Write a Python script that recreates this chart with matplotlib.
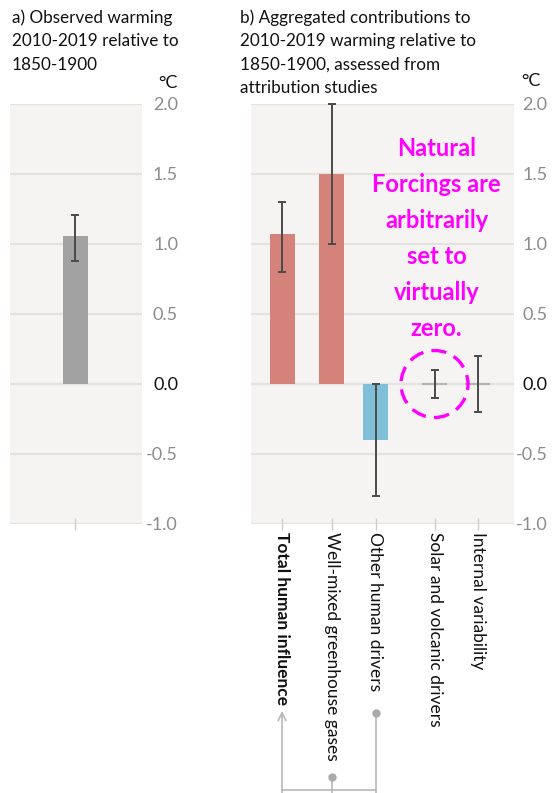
import matplotlib
matplotlib.use("Agg")
import matplotlib.pyplot as plt
import numpy as np
from matplotlib.patches import Circle
from matplotlib.transforms import ScaledTranslation, blended_transform_factory

# ---- data ----
observed_label = "a) Observed warming\n2010-2019 relative to\n1850-1900"
observed_best = [1.06]
observed_low = [0.88]
observed_high = [1.21]

contrib_title = ("b) Aggregated contributions to\n2010-2019 warming relative to\n"
                 "1850-1900, assessed from\nattribution studies")
categories = ["Total human influence", "Well-mixed greenhouse gases",
              "Other human drivers", "Solar and volcanic drivers",
              "Internal variability"]
best = [1.07, 1.50, -0.40, 0.0, 0.0]
low = [0.80, 1.00, -0.80, -0.10, -0.20]
high = [1.30, 2.00, 0.00, 0.10, 0.20]

yticks = [-1.0, -0.5, 0.0, 0.5, 1.0, 1.5, 2.0]
note = "Natural\nForcings are\narbitrarily\nset to\nvirtually\nzero."

# ---- layout / style ----
W, H = 553, 793
FONT = "Lato"
BG = "#f5f4f2"
GRID = "#e4e2df"
SALMON = "#d4827a"
BLUE = "#80bfd8"
GREYBAR = "#a2a2a2"
ZEROLINE = "#b4b4b4"
ERR = "#4a4a4a"
LINK = "#b8b8b8"
TICKLAB = "#8c8c8c"
INK = "#111111"

plt.rcParams["font.family"] = [FONT, "DejaVu Sans"]

fig = plt.figure(figsize=(W / 100, H / 100), dpi=100)
fig.patch.set_facecolor("white")


def fx(px):
    return px / W


def fy(py):
    return 1 - py / H


def style_axes(ax, label_pad):
    ax.set_facecolor(BG)
    ax.set_ylim(-1.0, 2.0)
    for s in ax.spines.values():
        s.set_visible(False)
    ax.yaxis.tick_right()
    ax.set_yticks(yticks)
    ax.set_yticklabels([f"{v:.1f}" for v in yticks])
    ax.tick_params(axis="y", length=0, pad=label_pad, labelsize=13,
                   labelcolor=TICKLAB)
    for lab in ax.get_yticklabels():
        lab.set_horizontalalignment("right")
        if lab.get_text() == "0.0":
            lab.set_color(INK)
    for v in yticks:
        ax.axhline(v, color=GRID, lw=1.6, zorder=1)
    ax.tick_params(axis="x", direction="inout", length=9, width=1.0,
                   color="#cfcdca", labelsize=12.5, pad=1)


# ---- panel a ----
axa = fig.add_axes([fx(10), fy(524), fx(132), (524 - 104) / H])
style_axes(axa, 26)
axa.set_xlim(0, 132)
pos_a = [65]
axa.bar(pos_a, observed_best, width=25, color=GREYBAR, zorder=2)
axa.errorbar(pos_a, observed_best,
             yerr=[[observed_best[0] - observed_low[0]],
                   [observed_high[0] - observed_best[0]]],
             fmt="none", ecolor=ERR, elinewidth=1.4, capsize=3.2,
             capthick=1.4, zorder=3, clip_on=False)
axa.set_xticks(pos_a)
axa.set_xticklabels([""])

# ---- panel b ----
axb = fig.add_axes([fx(251), fy(524), fx(263), (524 - 104) / H])
style_axes(axb, 24)
axb.set_xlim(0, 263)
pos_b = [31, 80.5, 124.5, 183.5, 226.5]
bw = 25
colors = [SALMON, SALMON, BLUE, None, None]
for p, v, c in zip(pos_b, best, colors):
    if c is None:
        axb.hlines(v, p - bw / 2, p + bw / 2, color=ZEROLINE, lw=1.6, zorder=2)
    else:
        axb.bar(p, v, width=bw, color=c, zorder=2)
yerr = [np.array(best) - np.array(low), np.array(high) - np.array(best)]
axb.errorbar(pos_b, best, yerr=yerr, fmt="none", ecolor=ERR,
             elinewidth=1.4, capsize=3.2, capthick=1.4, zorder=3,
             clip_on=False)

axb.set_xticks(pos_b)
axb.set_xticklabels(categories, rotation=-90, va="top", ha="center",
                    color=INK)
axb.get_xticklabels()[0].set_fontweight("bold")

# note about natural forcings
axb.text(pos_b[3] + 2, 1.04, note, ha="center", va="center",
         fontsize=17, fontweight="bold", color="#ff00ff",
         linespacing=1.68, zorder=5)

# dashed circle around the solar/volcanic estimate
circ = Circle((0, 0), radius=0.335, fill=False, edgecolor="#ff00ff",
              lw=2.4, linestyle=(0, (4.5, 2.5)), zorder=6, clip_on=False,
              transform=fig.dpi_scale_trans
              + ScaledTranslation(pos_b[3], 0.0, axb.transData))
axb.add_patch(circ)

# bracket linking the human drivers to the total
blend = blended_transform_factory(axb.transData, fig.transFigure)
y_base = fy(790)
axb.annotate("", xy=(pos_b[0], fy(711)), xycoords=blend,
             xytext=(pos_b[0], 0.0), textcoords=blend,
             arrowprops=dict(arrowstyle="->", color=LINK, lw=1.2,
                             mutation_scale=14, shrinkA=0, shrinkB=0),
             annotation_clip=False)
axb.plot([pos_b[0], pos_b[2]], [y_base, y_base], color=LINK, lw=1.2,
         transform=blend, clip_on=False)
for p, top in [(pos_b[1], 777), (pos_b[2], 713)]:
    axb.plot([p, p], [0.0, fy(top)], color=LINK, lw=1.2,
             transform=blend, clip_on=False)
    axb.plot([p], [fy(top)], marker="o", ms=5, color="#aaaaaa",
             transform=blend, clip_on=False)

# ---- titles and units ----
fig.text(fx(12), fy(9), observed_label, ha="left", va="top", fontsize=12.3,
         linespacing=1.58, color=INK)
fig.text(fx(240), fy(9), contrib_title, ha="left", va="top", fontsize=12.3,
         linespacing=1.58, color=INK)
fig.text(fx(178), fy(83), "°C", ha="right", va="center", fontsize=13,
         color=INK)
fig.text(fx(541), fy(81), "°C", ha="right", va="center", fontsize=13,
         color=INK)

fig.savefig("out.png", dpi=100, facecolor="white")
